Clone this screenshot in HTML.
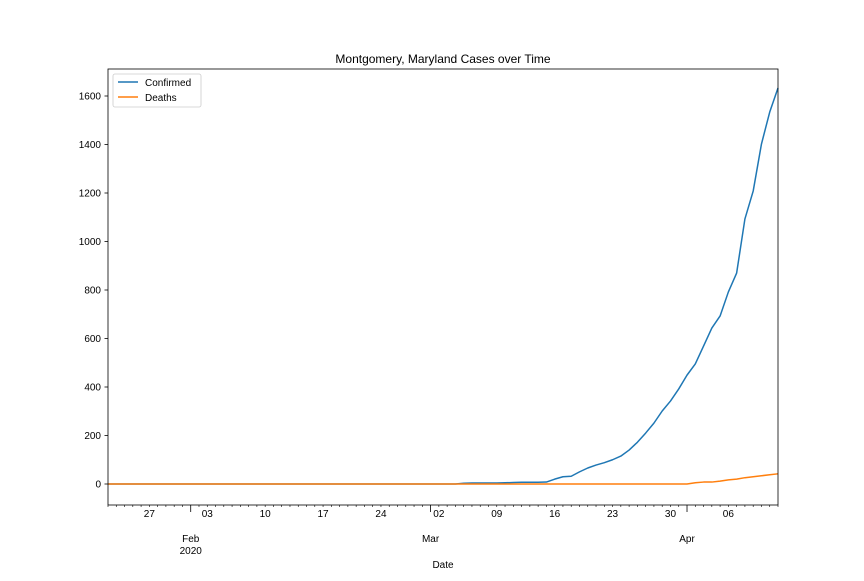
<!DOCTYPE html>
<html><head><meta charset="utf-8"><style>
body{margin:0;background:#fff;}
svg{font-family:"Liberation Sans","DejaVu Sans",sans-serif;}
</style></head><body>
<svg width="864" height="576" viewBox="0 0 864 576">
<rect width="864" height="576" fill="#fff"/>
<text x="443" y="63" font-size="12" text-anchor="middle">Montgomery, Maryland Cases over Time</text>
<g id="yaxis"></g>
<g id="xaxis"></g>
<g id="series"></g>
<rect x="108" y="69" width="670" height="436" fill="none" stroke="#000" stroke-width="0.8"/>
<text x="443" y="568" font-size="10" text-anchor="middle">Date</text>
<g>
<rect x="113" y="74" width="88" height="33" rx="2" fill="#fff" stroke="#ccc" stroke-width="0.8"/>
<line x1="118" y1="82" x2="138" y2="82" stroke="#1f77b4" stroke-width="1.5"/>
<text x="145" y="86" font-size="10">Confirmed</text>
<line x1="118" y1="97" x2="138" y2="97" stroke="#ff7f0e" stroke-width="1.5"/>
<text x="145" y="101" font-size="10">Deaths</text>
</g>
</svg>
<script>
// days since 2020-01-22 (day 0) through 2020-04-12 (day 81)
const confirmedTail = [3,4,4,4,4,5,6,7,7,7,8,20,30,32,50,66,78,88,100,115,140,172,210,251,301,342,392,449,495,569,643,693,792,870,1093,1208,1402,1534,1633]; // days 43..81
const deathsTail = [0,5,8,8,12,17,20,26,30,34,38,42]; // days 70..81
const yTicks = [0,200,400,600,800,1000,1200,1400,1600];
const dayLabels = ["27","03","10","17","24","02","09","16","23","30","06"];
const dayLabelIdx = [5,12,19,26,33,40,47,54,61,68,75];
const monthLabels = ["Feb","Mar","Apr"];
const monthIdx = [10,39,70];

const NS="http://www.w3.org/2000/svg";
const LAST=81;
const confirmed=[], deaths=[];
for(let i=0;i<=LAST;i++){confirmed.push(i>=43?confirmedTail[i-43]:0);deaths.push(i>=70?deathsTail[i-70]:0);}
const x0=108,x1=778,yBase=484,yPer=388/1600;
const X=d=>x0+(x1-x0)*d/LAST;
const Y=v=>yBase-v*yPer;
function mk(t,a,p){const e=document.createElementNS(NS,t);for(const k in a)e.setAttribute(k,a[k]);p.appendChild(e);return e;}
const ya=document.getElementById('yaxis'),xa=document.getElementById('xaxis'),sg=document.getElementById('series');
yTicks.forEach(v=>{
 const l=mk('line',{x1:104.5,x2:108,y1:Y(v),y2:Y(v),stroke:'#000','stroke-width':0.8},ya);
 
 
 const t=mk('text',{x:101,y:Y(v)+3.5,'font-size':10,'text-anchor':'end'},ya);t.textContent=v;
 
 
});
for(let d=0;d<=LAST;d++){
 const major=monthIdx.includes(d);
 const l=mk('line',{x1:X(d),x2:X(d),y1:505,y2:major?512:507,stroke:'#000','stroke-width':major?0.8:0.6},xa);
 
 
}
dayLabels.forEach((s,i)=>{
 const t=mk('text',{x:X(dayLabelIdx[i]),y:517,'font-size':10,'text-anchor':'middle'},xa);t.textContent=s;
 
 
});
monthLabels.forEach((s,i)=>{
 const t=mk('text',{x:X(monthIdx[i]),y:542,'font-size':10,'text-anchor':'middle'},xa);t.textContent=s;
 
 
});
const yr=mk('text',{x:X(10),y:554,'font-size':10,'text-anchor':'middle'},xa);yr.textContent='2020';


function line(arr,color,name){
 const p=mk('polyline',{points:arr.map((v,i)=>X(i)+','+Y(v)).join(' '),fill:'none',stroke:color,'stroke-width':1.5,'stroke-linejoin':'round'},sg);
 
 
}
line(confirmed,'#1f77b4','confirmed-line');
line(deaths,'#ff7f0e','deaths-line');
</script>
</body></html>
